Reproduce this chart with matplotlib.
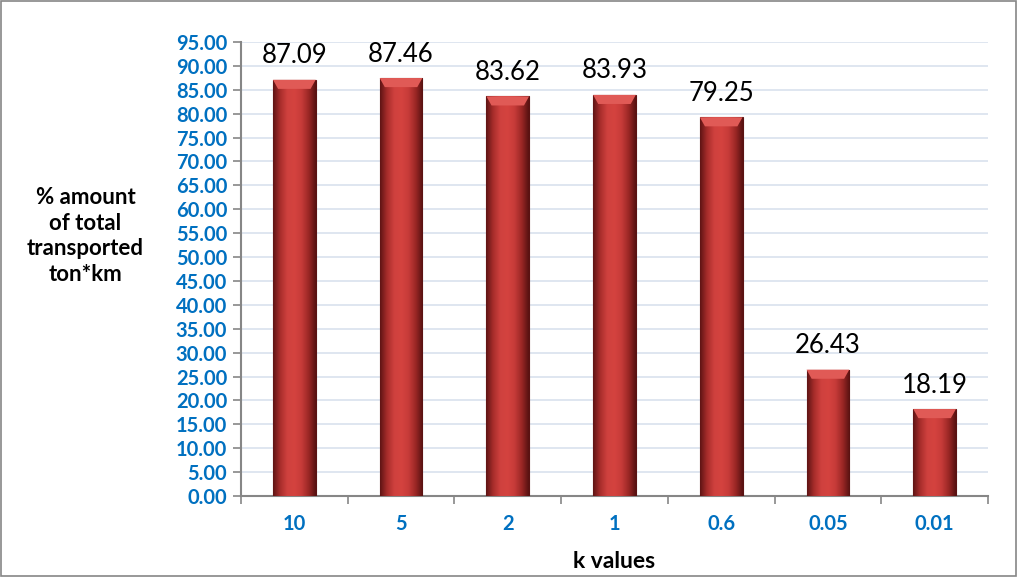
import matplotlib
matplotlib.use("Agg")
import matplotlib.pyplot as plt
from matplotlib.colors import LinearSegmentedColormap
from matplotlib.patches import Rectangle, Polygon
import numpy as np

# 数据
categories = ["10", "5", "2", "1", "0.6", "0.05", "0.01"]
values = [87.09, 87.46, 83.62, 83.93, 79.25, 26.43, 18.19]
y_ticks = np.arange(0, 96, 5)

BLUE = "#0070C0"
GRID = "#D9E1EE"
SPINE = "#868686"

plt.rcParams['font.family'] = ['Lato', 'DejaVu Sans']

fig = plt.figure(figsize=(10.18, 5.77), dpi=100)
fig.patch.set_facecolor('white')
# 外框
fig.add_artist(Rectangle((0.001, 0.001), 0.997, 0.997, transform=fig.transFigure,
                         fill=False, edgecolor=SPINE, linewidth=1.2))

ax = fig.add_axes([0.2367, 0.1404, 0.9705 - 0.2367, 0.9272 - 0.1404])
x = np.arange(len(categories))
bars = ax.bar(x, values, width=0.4, color='#C83A38', edgecolor='#5a1212',
              linewidth=0.8, zorder=3)

# 柱子横向渐变（中间亮、两边暗）
cmap = LinearSegmentedColormap.from_list(
    "redbar", ["#5e1414", "#a82d2b", "#cf413e", "#d4433f", "#c63b39", "#9a2725", "#561111"])
grad = np.linspace(0, 1, 256).reshape(1, -1)
for b in bars:
    bx, by = b.get_x(), b.get_y()
    bw, bh = b.get_width(), b.get_height()
    im = ax.imshow(grad, extent=[bx, bx + bw, by, by + bh], cmap=cmap,
                   aspect='auto', zorder=3.5, interpolation='bicubic')
    im.set_clip_path(b)
    # 顶部斜面
    top = by + bh
    ax.add_patch(Polygon([(bx, top), (bx + bw, top), (bx + bw * 0.88, top - 1.9),
                          (bx + bw * 0.12, top - 1.9)], closed=True,
                         facecolor='#e05a56', edgecolor='none', zorder=3.6))

for xi, v in zip(x, values):
    ax.text(xi, v + 2.4, f"{v:.2f}", ha='center', va='bottom',
            fontsize=18.5, color='black', zorder=5)

ax.set_xlim(-0.5, len(categories) - 0.5)
ax.set_ylim(0, 95)
ax.set_yticks(y_ticks)
ax.set_yticklabels([f"{t:.2f}" for t in y_ticks], fontsize=14.5,
                   fontweight='bold', color=BLUE)
ax.set_xticks(x)
ax.set_xticklabels(categories, fontsize=14.5, fontweight='bold', color=BLUE)
ax.tick_params(axis='x', length=0, pad=13)
ax.set_xticks(np.arange(-0.5, len(categories)), minor=True)
ax.tick_params(axis='x', which='minor', length=6, color=SPINE, width=1.2)
ax.tick_params(axis='y', length=6, color=SPINE, width=1.2, pad=4)

ax.yaxis.grid(True, color=GRID, linewidth=1.2, zorder=0)
ax.set_axisbelow(True)
for s in ['top', 'right']:
    ax.spines[s].set_visible(False)
for s in ['left', 'bottom']:
    ax.spines[s].set_color(SPINE)
    ax.spines[s].set_linewidth(1.5)

ax.set_xlabel("k values", fontsize=16.5, fontweight='bold', labelpad=12)
fig.text(0.084, 0.591, "% amount\nof total\ntransported\nton*km", ha='center',
         va='center', fontsize=16, fontweight='bold', linespacing=1.27)

fig.savefig("out.png", dpi=100, facecolor='white')
